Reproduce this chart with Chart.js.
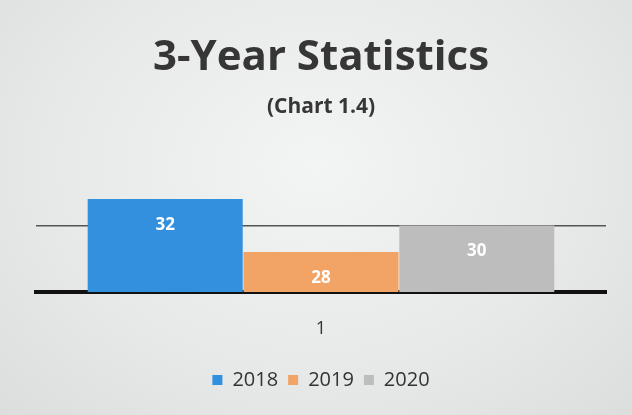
<!DOCTYPE html>
<html>
<head>
<meta charset="utf-8">
<script src="https://cdn.jsdelivr.net/npm/chart.js@4/dist/chart.umd.min.js"></script>
<style>
  html, body { margin: 0; padding: 0; }
  body {
    width: 632px; height: 415px; overflow: hidden;
    background: radial-gradient(ellipse at 50% 40%, #f3f4f4 0%, #e7e8e8 60%, #dcdddd 100%);
  }
  #wrap { width: 632px; height: 415px; }
</style>
</head>
<body>
<div id="wrap"><canvas id="myChart"></canvas></div>
<script>
// data
const categories = ['1'];
const seriesNames = ['2018', '2019', '2020'];
const seriesValues = [[32], [28], [30]];
const seriesColors = ['#3290df', '#f2a466', '#bdbdbd'];

// white value labels inside each bar
const barLabels = {
  id: 'barLabels',
  afterDatasetsDraw(chart) {
    const ctx = chart.ctx;
    ctx.save();
    ctx.font = 'bold 17px "Open Sans"';
    ctx.fillStyle = '#ffffff';
    ctx.textAlign = 'center';
    ctx.textBaseline = 'middle';
    chart.data.datasets.forEach((ds, i) => {
      chart.getDatasetMeta(i).data.forEach((bar, j) => {
        const y = Math.min(bar.y + 26, (bar.y + bar.base) / 2 - 3);
        ctx.fillText(ds.data[j], bar.x, y);
      });
    });
    ctx.restore();
  }
};

new Chart(document.getElementById('myChart'), {
  type: 'bar',
  data: {
    labels: categories,
    datasets: seriesNames.map((name, i) => ({
      label: name,
      data: seriesValues[i],
      backgroundColor: seriesColors[i],
      borderWidth: 0,
      barPercentage: 0.995,
      categoryPercentage: 0.82
    }))
  },
  options: {
    responsive: true,
    maintainAspectRatio: false,
    animation: false,
    layout: { padding: { left: 36, right: 26, top: 33, bottom: 15 } },
    plugins: {
      title: {
        display: true,
        text: '3-Year Statistics',
        color: '#363636',
        font: { family: 'Open Sans', size: 42, weight: 'bold' },
        padding: { top: 0, bottom: 11 }
      },
      subtitle: {
        display: true,
        text: '(Chart 1.4)',
        color: '#363636',
        font: { family: 'Open Sans', size: 21, weight: 'bold' },
        padding: { top: 0, bottom: 66 }
      },
      legend: {
        position: 'bottom',
        labels: {
          color: '#333',
          font: { family: 'Open Sans', size: 20 },
          boxWidth: 10,
          boxHeight: 10,
          padding: 10
        }
      },
      tooltip: { enabled: false }
    },
    scales: {
      x: {
        grid: { display: false },
        border: { color: '#111', width: 4 },
        ticks: { color: '#333', font: { family: 'Open Sans', size: 18 }, padding: 18 },
        afterFit(scale) { scale.height = 68; }
      },
      y: {
        min: 25,
        max: 33,
        ticks: { display: false, stepSize: 5 },
        grid: {
          color: (c) => (c.tick && c.tick.value === 30 ? '#555' : 'rgba(0,0,0,0)'),
          lineWidth: 1.5,
          drawTicks: false
        },
        border: { display: false }
      }
    }
  },
  plugins: [barLabels]
});
</script>
</body>
</html>
